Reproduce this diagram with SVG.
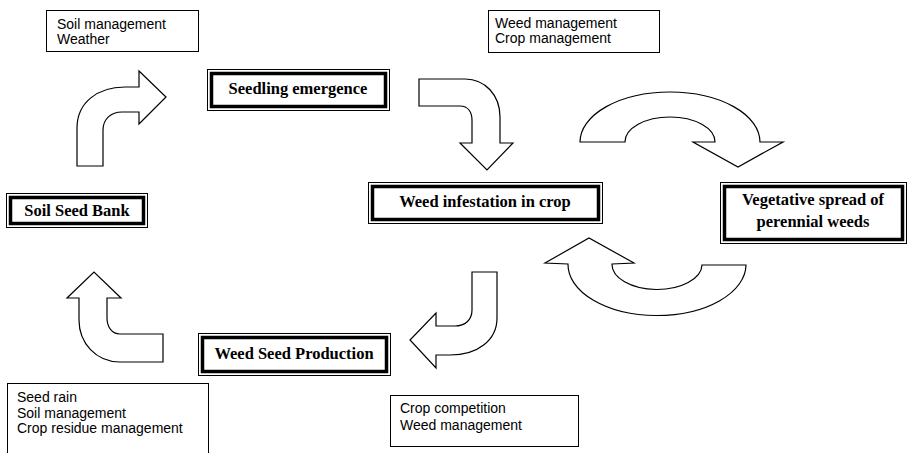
<svg xmlns="http://www.w3.org/2000/svg" width="910" height="453" viewBox="0 0 910 453">
<style>
.bg{fill:#fff}
.outer{fill:#fff;stroke:#000;stroke-width:1}
.inner{fill:none;stroke:#000;stroke-width:3.5}
.note{fill:#fff;stroke:#000;stroke-width:1}
.arrow{fill:#fff;stroke:#000;stroke-width:1.2;stroke-linejoin:miter}
.t{font-family:"Liberation Serif","Times New Roman",serif;font-weight:bold;font-size:16.5px;fill:#000;text-anchor:middle}
.s{font-family:"Liberation Sans",Arial,sans-serif;font-size:14px;fill:#000}
</style>
<rect class="bg" x="0" y="0" width="910" height="453"/>

<g id="connectors">
  <path class="arrow" d="M77,166 L77,128 C77,103 97,87 125,87 L139,87 L139,71 L166,97 L139,124 L139,112 L122,112 C111,112 103,119 103,130 L103,166 Z"/>
  <path class="arrow" d="M419,79 L465,79 C485,79 500,95 500,117 L500,143 L513,143 L487,170 L460,143 L472,143 L472,120 C472,112 468,106 460,106 L419,106 Z"/>
  <path class="arrow" d="M580,142 A90,50 0 0 1 760,142 L783,142 L738,167 L693,142 L715,142 A45,25 0 0 0 625,142 Z"/>
  <path class="arrow" d="M746,265 A89,51 0 0 1 568,264 L545,263 L589,238 L634,263 L612,264 A45,25 0 0 0 702,265 Z"/>
  <path class="arrow" d="M472,272 L497,272 L497,318 C497,340 478,355 450,355 L436,355 L436,368 L410,340 L436,313 L436,326 L455,326 C465,326 472,320 472,310 Z"/>
  <path class="arrow" d="M163,362 L120,362 C96,362 79,343 79,320 L79,298 L67,298 L94,272 L121,298 L107,298 L107,318 C107,327 112,334 120,334 L163,334 Z"/>
</g>

<g id="soil-seed-bank">
  <rect class="outer" x="6.5" y="193.5" width="141" height="34"/>
  <rect class="inner" x="10.5" y="197.5" width="133" height="26"/>
  <text class="t" x="77" y="216">Soil Seed Bank</text>
</g>

<g id="seedling-emergence">
  <rect class="outer" x="207.5" y="69.5" width="182" height="41"/>
  <rect class="inner" x="211.5" y="73.5" width="174" height="33"/>
  <text class="t" x="298" y="94">Seedling emergence</text>
</g>

<g id="weed-infestation">
  <rect class="outer" x="368.5" y="182.5" width="234" height="41"/>
  <rect class="inner" x="372.5" y="186.5" width="226" height="33"/>
  <text class="t" x="485" y="207">Weed infestation in crop</text>
</g>

<g id="vegetative-spread">
  <rect class="outer" x="720.5" y="182.5" width="186" height="61"/>
  <rect class="inner" x="724.5" y="186.5" width="178" height="53"/>
  <text class="t" x="813" y="205">Vegetative spread of</text>
  <text class="t" x="813" y="227">perennial weeds</text>
</g>

<g id="weed-seed-production">
  <rect class="outer" x="198.5" y="333.5" width="192" height="42"/>
  <rect class="inner" x="202.5" y="337.5" width="184" height="34"/>
  <text class="t" x="294" y="359">Weed Seed Production</text>
</g>

<g id="note-emergence">
  <rect class="note" x="46.5" y="10.5" width="152" height="41"/>
  <text class="s" x="57" y="29">Soil management</text>
  <text class="s" x="57" y="44">Weather</text>
</g>

<g id="note-infestation">
  <rect class="note" x="488.5" y="10.5" width="171" height="42"/>
  <text class="s" x="495" y="28">Weed management</text>
  <text class="s" x="495" y="43">Crop management</text>
</g>

<g id="note-seedbank">
  <rect class="note" x="7.5" y="383.5" width="201" height="80"/>
  <text class="s" x="17" y="402">Seed rain</text>
  <text class="s" x="17" y="418">Soil management</text>
  <text class="s" x="17" y="433">Crop residue management</text>
</g>

<g id="note-production">
  <rect class="note" x="390.5" y="395.5" width="188" height="51"/>
  <text class="s" x="400" y="413">Crop competition</text>
  <text class="s" x="400" y="430">Weed management</text>
</g>
</svg>
